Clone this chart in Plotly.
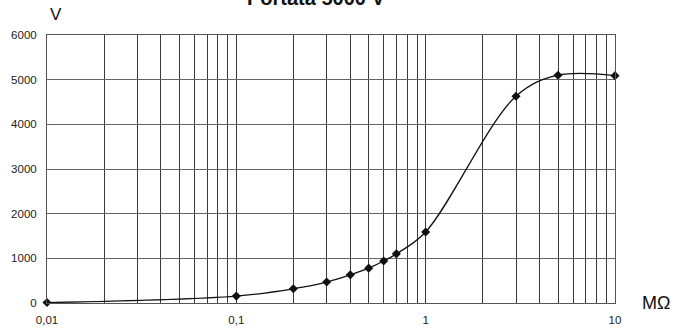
import plotly.graph_objects as go

resistance_mohm = [0.01, 0.1, 0.2, 0.3, 0.4, 0.5, 0.6, 0.7, 1, 3, 5, 10]
voltage_v = [10, 155, 320, 470, 630, 780, 940, 1100, 1590, 4630, 5100, 5090]

grid_vals = []
for dec in [0.01, 0.1, 1]:
    for m in range(1, 10):
        grid_vals.append(round(dec * m, 4))
grid_vals.append(10)
decade_labels = {0.01: "0,01", 0.1: "0,1", 1: "1", 10: "10"}
grid_text = [decade_labels.get(v, "") for v in grid_vals]
y_ticks = [0, 1000, 2000, 3000, 4000, 5000, 6000]

fig = go.Figure()
fig.add_trace(go.Scatter(
    x=resistance_mohm, y=voltage_v, mode="lines+markers",
    line=dict(color="#111", width=1.3, shape="spline", smoothing=1.0),
    marker=dict(symbol="diamond", size=7, color="#111"),
    cliponaxis=False,
))

fig.update_layout(
    width=675, height=329,
    margin=dict(l=47, r=60, t=35, b=26),
    paper_bgcolor="white", plot_bgcolor="white",
    showlegend=False,
    font=dict(family="Liberation Sans, Arial, sans-serif", size=11.5, color="#222"),
    xaxis=dict(
        type="log", range=[-2, 1],
        tickvals=grid_vals, ticktext=grid_text,
        showgrid=True, gridcolor="#3a3a3a", gridwidth=1,
        showline=True, linecolor="#555", mirror=True,
        ticks="", zeroline=False, ticklabelstandoff=6, automargin=False,
    ),
    yaxis=dict(
        range=[0, 6000], tickvals=y_ticks,
        showgrid=True, gridcolor="#666", gridwidth=1,
        showline=True, linecolor="#555", mirror=True,
        ticks="", zeroline=False, ticklabelstandoff=7, automargin=False,
    ),
    annotations=[
        dict(text="<b>Portata 5000 V</b>", x=0.4745, y=1.0, xref="paper", yref="paper",
             yshift=24, xanchor="center", yanchor="bottom", showarrow=False,
             font=dict(size=20, color="#111")),
        dict(text="V", x=0.0, y=1.0, xref="paper", yref="paper",
             xshift=1, yshift=9, xanchor="left", yanchor="bottom", showarrow=False,
             font=dict(size=17, color="#111")),
        dict(text="MΩ", x=1.0, y=0.0, xref="paper", yref="paper",
             xshift=25, yshift=0, xanchor="left", yanchor="middle", showarrow=False,
             font=dict(size=18, color="#111")),
    ],
)

fig.write_html(
    "out.html",
    config={"displayModeBar": False},
    post_script="document.body.style.margin='0';document.body.style.overflow='hidden';",
)
